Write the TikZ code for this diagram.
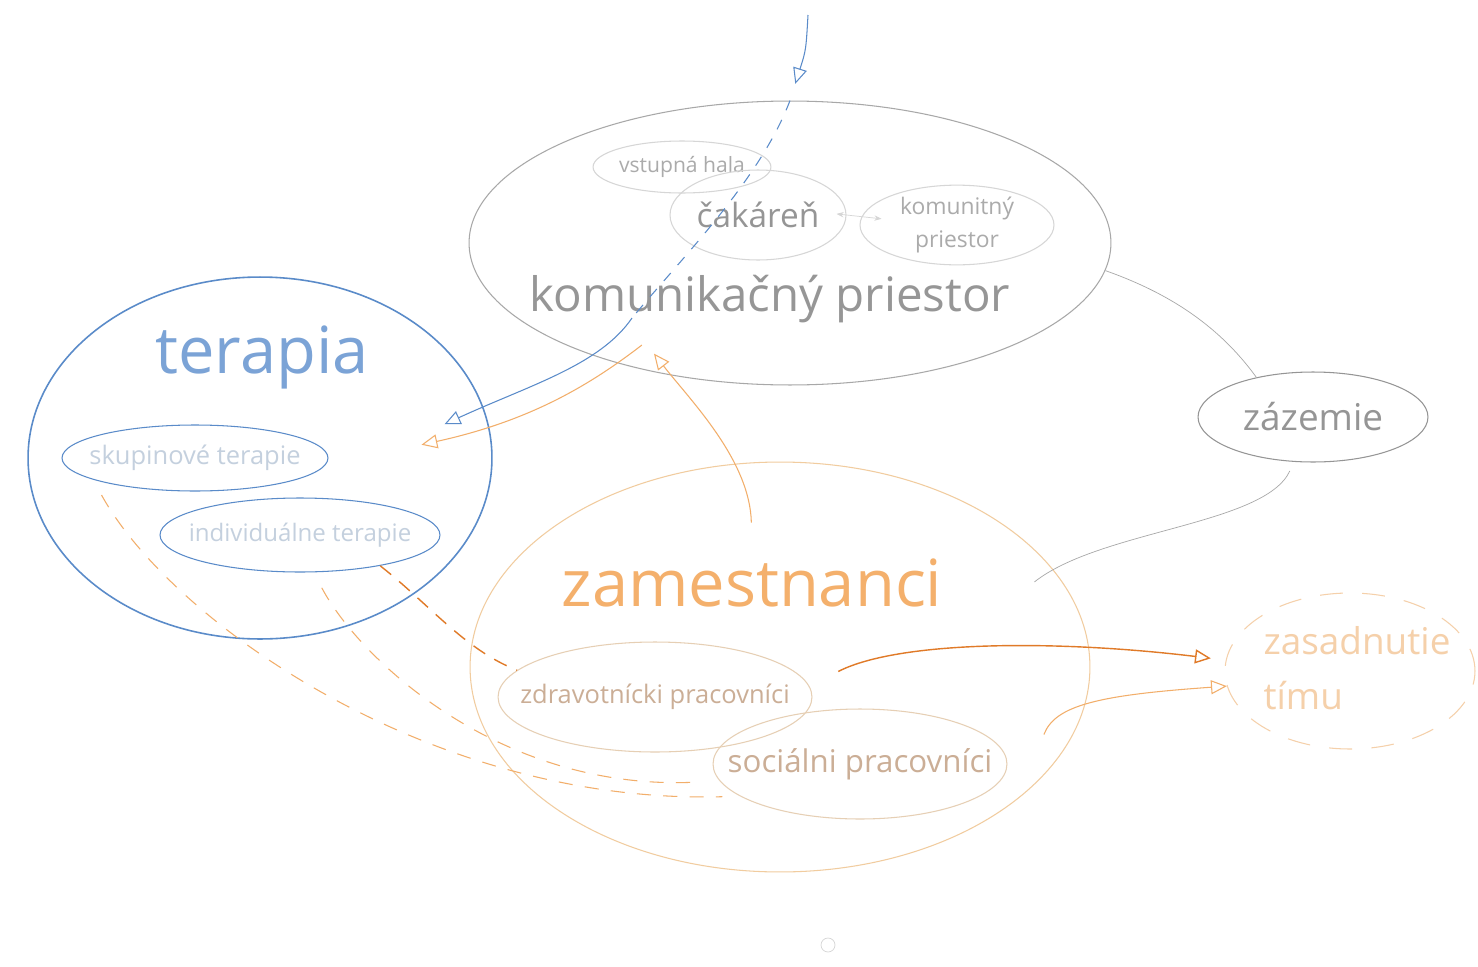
\documentclass[tikz,border=0pt]{standalone}
\usepackage{fontspec}
\setmainfont{Open Sans}
\usetikzlibrary{shapes.geometric,arrows.meta}
\definecolor{kgray}{HTML}{A8A8A8}
\definecolor{ktext}{HTML}{969696}
\definecolor{lgray}{HTML}{D6D6D6}
\definecolor{htext}{HTML}{ABABAB}
\definecolor{zgray}{HTML}{959595}
\definecolor{tblue}{HTML}{5A8BC9}
\definecolor{ttext}{HTML}{7BA3D6}
\definecolor{stext}{HTML}{C4D0DE}
\definecolor{zor}{HTML}{F1CC9F}
\definecolor{ztext}{HTML}{F4B06C}
\definecolor{ptan}{HTML}{E6CFB4}
\definecolor{ptext}{HTML}{CBAE96}
\definecolor{lor}{HTML}{F2AE6A}
\definecolor{dor}{HTML}{E07A28}
\definecolor{zas}{HTML}{F5D0AA}
\begin{document}
\begin{tikzpicture}[x=0.02cm,y=-0.02cm,>={Triangle[open,length=9pt,width=8pt]},
  oval/.style={ellipse,draw,inner sep=0pt,line width=0.6pt},
  fs/.style 2 args={font=\fontsize{#1}{#2}\selectfont}]
\useasboundingbox[fill=white](0,0)rectangle(1478,967);
% komunikacny priestor
\node[oval,draw=kgray,minimum width=12.84cm,minimum height=5.68cm](kom)at(790,243){};
\node[text=ktext,fs={27}{32}](komtxt)at(770,299){komunikačný priestor};
\node[oval,draw=lgray,text=htext,fs={12}{14},minimum width=3.52cm,minimum height=1.04cm](hala)at(682,167){vstupná hala};
\node[oval,draw=lgray,text=zgray,fs={19}{22},minimum width=3.52cm,minimum height=1.8cm](cak)at(758,215){čakáreň};
\node[oval,draw=lgray,text=htext,align=center,fs={13}{19},minimum width=3.88cm,minimum height=1.4cm](komun)at(957,225){komunitný\\priestor};
\draw[<->,>={Stealth[length=4pt,width=3pt]},draw=lgray,shorten <=-0.2cm,shorten >=-0.4cm](cak.east)--(komun.175);
% zazemie
\node[oval,draw=zgray,text=zgray,fs={21}{24},minimum width=4.6cm,minimum height=1.8cm](zaz)at(1313,417){zázemie};
% terapia
\node[oval,draw=tblue,line width=0.9pt,minimum width=9.28cm,minimum height=7.24cm](ter)at(260,458){};
\node[text=ttext,fs={37}{40}](tertxt)at(262,357){terapia};
\node[oval,draw=tblue,text=stext,fs={14.5}{17},minimum width=5.32cm,minimum height=1.32cm](sku)at(195,458){\makebox[0pt]{skupinové terapie}};
\node[oval,draw=tblue,text=stext,fs={13.7}{16},minimum width=5.6cm,minimum height=1.48cm](ind)at(300,535){\makebox[0pt]{individuálne terapie}};
% zamestnanci
\node[oval,draw=zor,minimum width=12.4cm,minimum height=8.2cm](zam)at(780,667){};
\node[text=ztext,fs={37}{40}](zamtxt)at(752,583){zamestnanci};
\node[oval,draw=ptan,text=ptext,fs={14.5}{17},minimum width=6.28cm,minimum height=2.2cm](zdr)at(655,697){\makebox[0pt]{zdravotnícki pracovníci}};
\node[oval,draw=ptan,text=ptext,fs={17.8}{20},minimum width=5.88cm,minimum height=2.2cm](soc)at(860,764){\makebox[0pt]{sociálni pracovníci}};
% zasadnutie timu
\node[oval,draw=zas,dash pattern=on 13pt off 11pt,text=zas,fs={21}{31},minimum width=5.0cm,minimum height=3.12cm](zas)at(1350,671){\makebox[0pt]{\hspace{0.28cm}\begin{tabular}{@{}l@{}}zasadnutie\\tímu\end{tabular}}};
% modra sipka zhora
\coordinate(src)at(808,15);
\coordinate(kink)at(632,318);
\draw[tblue,semithick,->,shorten >=0.35cm](src)..controls(806,50)..(kom.north);
\draw[tblue,semithick,dash pattern=on 6pt off 6pt](kom.north)..controls(760,180)and(680,260)..(kink);
\draw[tblue,semithick,->,shorten >=-0.85cm](kink)..controls(600,365)and(530,385)..(ter.13.5);
% oranzove sipky
\draw[lor,semithick,->,shorten <=-0.6cm,shorten >=-1.4cm](kom.215)..controls(590,385)and(530,421)..(ter.7);
\draw[lor,semithick,->,shorten <=0.6cm,shorten >=-0.55cm](zamtxt.north)..controls(750,460)and(690,400)..(kom.228);
\draw[dor,thick,->,shorten >=0.3cm]([shift={(37,-5)}]zdr.8)..controls(900,640)and(1060,640)..(zas.175);
\draw[lor,semithick,->]([shift={(48,-8)}]soc.9)..controls(1055,705)and(1100,695)..(zas.187);
% sive ciary
\draw[kgray](kom.355)..controls(1160,290)and(1215,320)..(zaz.145);
\draw[kgray,shorten <=0.2cm,shorten >=-0.45cm](zaz.247)..controls(1265,525)and(1100,530)..(zam.20);
% prerusovane
\draw[dor,thick,dash pattern=on 8pt off 6pt](ind.339)..controls(430,605)and(465,650)..(zdr.169);
\draw[lor,semithick,dash pattern=on 8pt off 7pt,shorten <=0.35cm,shorten >=0.35cm](sku.192)..controls(170,620)and(430,805)..(soc.195);
\draw[lor,semithick,dash pattern=on 8pt off 7pt,shorten <=0.35cm,shorten >=0.55cm](ind.290)..controls(360,660)and(500,790)..(soc.187);
\draw[lgray](828,945)circle[radius=0.14cm];
\end{tikzpicture}
\end{document}
